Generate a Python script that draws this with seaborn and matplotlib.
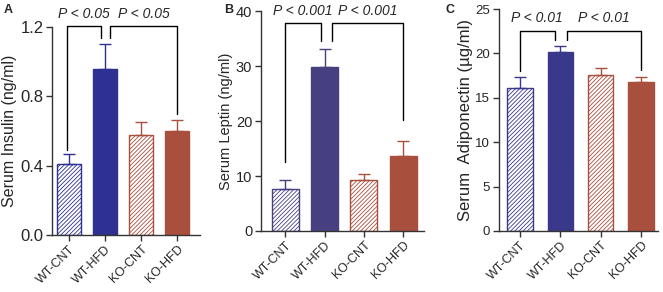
import numpy as np
import pandas as pd
import matplotlib
matplotlib.use("Agg")
import matplotlib.pyplot as plt
import seaborn as sns

groups = ["WT-CNT", "WT-HFD", "KO-CNT", "KO-HFD"]

insulin = [0.41, 0.96, 0.575, 0.60]
insulin_err = [0.055, 0.145, 0.075, 0.067]

leptin = [7.7, 29.9, 9.2, 13.7]
leptin_err = [1.5, 3.2, 1.1, 2.7]

adipo = [16.15, 20.2, 17.6, 16.8]
adipo_err = [1.25, 0.65, 0.8, 0.5]

p_labels_a = ["P < 0.05", "P < 0.05"]
p_labels_b = ["P < 0.001", "P < 0.001"]
p_labels_c = ["P < 0.01", "P < 0.01"]

sns.set_theme(style="ticks")
plt.rcParams["font.family"] = ["Liberation Sans", "DejaVu Sans"]
plt.rcParams["hatch.linewidth"] = 0.6

red = "#A84F3D"


def panel(ax, vals, errs, blue, ylabel, ymax, yticks, fmt, width, xlim,
          br, pl, lab_fs, tick_fs):
    df = pd.DataFrame({"group": groups, "value": vals})
    cols = [blue, blue, red, red]
    sns.barplot(data=df, x="group", y="value", hue="group", palette=cols,
                legend=False, width=width, ax=ax, saturation=1, errorbar=None)
    for i, p in enumerate(ax.patches[:4]):
        c = cols[i]
        p.set_edgecolor(c)
        p.set_linewidth(1.0)
        if i in (0, 2):
            p.set_facecolor("white")
            p.set_hatch("////////")
        ax.errorbar(i, vals[i], yerr=[[0], [errs[i]]], color=c, capsize=4,
                    elinewidth=1.0, capthick=1.0, zorder=1)
    ax.set_ylim(0, ymax)
    ax.set_xlim(*xlim)
    ax.set_yticks(yticks)
    ax.set_yticklabels([fmt.format(t) for t in yticks], fontsize=tick_fs)
    ax.set_xticks(range(4))
    ax.set_xticklabels(groups, rotation=45, ha="right", rotation_mode="anchor",
                       fontsize=9)
    ax.set_xlabel("")
    ax.set_ylabel(ylabel, fontsize=lab_fs, labelpad=2)
    ax.tick_params(axis="both", width=1.0, length=4, color="#333333", pad=2)
    for s in ("left", "bottom"):
        ax.spines[s].set_linewidth(1.0)
        ax.spines[s].set_color("#333333")
    sns.despine(ax=ax)
    # significance brackets: (x0, x1, y_top, y_left, y_right)
    for (x0, x1, yt, y0, y1), lab in zip(br, pl):
        ax.plot([x0, x0, x1, x1], [y0, yt, yt, y1], color="black", lw=1.0,
                clip_on=False)
        ax.text((x0 + x1) / 2, yt + ymax * 0.025, lab, ha="center",
                va="bottom", fontsize=10, style="italic", clip_on=False)


fig = plt.figure(figsize=(6.63, 2.92), dpi=100)
axA = fig.add_axes([0.078, 0.195, 0.224, 0.712])
axB = fig.add_axes([0.393, 0.209, 0.247, 0.753])
axC = fig.add_axes([0.752, 0.209, 0.241, 0.760])

panel(axA, insulin, insulin_err, "#2E3192", "Serum Insulin (ng/ml)", 1.2,
      [0.0, 0.4, 0.8, 1.2], "{:.1f}", 0.67, (-0.47, 3.64),
      [(-0.05, 0.9, 1.205, 0.49, 1.14), (1.15, 3.0, 1.205, 1.14, 0.70)],
      p_labels_a, 11.5, 12)
panel(axB, leptin, leptin_err, "#463F80", "Serum Leptin (ng/ml)", 40,
      [0, 10, 20, 30, 40], "{:.0f}", 0.69, (-0.63, 3.54),
      [(0.0, 0.9, 37.8, 12.6, 34.5), (1.2, 3.0, 37.8, 34.5, 20.2)],
      p_labels_b, 10.5, 10.5)
panel(axC, adipo, adipo_err, "#3A388A", "Serum  Adiponectin (\u00b5g/ml)", 25,
      [0, 5, 10, 15, 20, 25], "{:.0f}", 0.63, (-0.53, 3.43),
      [(0.0, 0.86, 22.55, 18.0, 21.5), (1.16, 3.0, 22.55, 21.5, 18.1)],
      p_labels_c, 12, 9.5)

fig.text(0.005, 0.985, "A", fontsize=9, fontweight="bold", va="top")
fig.text(0.338, 0.985, "B", fontsize=9, fontweight="bold", va="top")
fig.text(0.672, 0.985, "C", fontsize=9, fontweight="bold", va="top")

fig.savefig("out.png", dpi=100)
